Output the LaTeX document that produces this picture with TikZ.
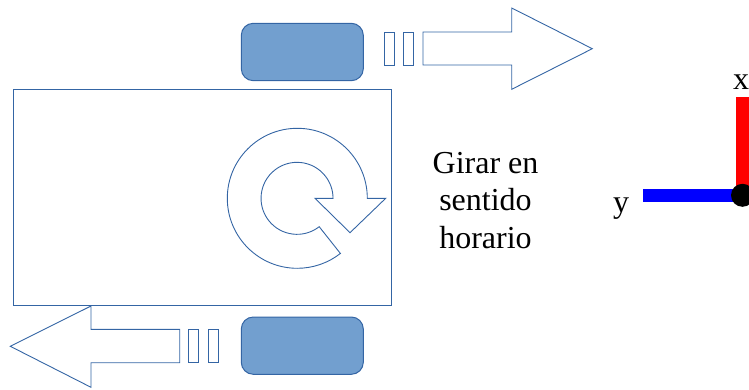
\documentclass[tikz,border=0pt]{standalone}
\usepackage{fontspec}
\setmainfont{Liberation Serif}
\definecolor{lineblue}{HTML}{3465A4}
\definecolor{wheelblue}{HTML}{729FCF}
\tikzset{
  outline/.style={draw=lineblue,line width=0.9pt,line join=miter},
  wheelbox/.style={draw=lineblue,fill=wheelblue,line width=1pt,rounded corners=12pt},
  txt/.style={font=\fontsize{32}{37.5}\selectfont,text=black,inner sep=0pt,align=center},
  axisline/.style={line width=12.5pt}
}
\begin{document}
\begin{tikzpicture}[x=1pt,y=-1pt]
\useasboundingbox (0,0) rectangle (749,390);
% body
\draw[outline] (13.3,89.3) rectangle (391,305.5);
% wheels
\draw[wheelbox] (241.3,23.3) rectangle (363.3,80.7);
\draw[wheelbox] (241.3,317) rectangle (363.3,374.3);
% top arrow
\draw[outline] (384.7,32) rectangle (394.7,65);
\draw[outline] (403.7,32) rectangle (413.7,65);
\draw[outline] (423,32) -- (511.7,32) -- (511.7,8) -- (592.3,48.7) -- (511.7,89.3) -- (511.7,65) -- (423,65) -- cycle;
% bottom arrow
\draw[outline] (188.7,329.3) rectangle (198.7,362.7);
\draw[outline] (208,329.3) rectangle (218,362.7);
\draw[outline] (179.7,329.3) -- (91,329.3) -- (91,306) -- (10.3,346.3) -- (91,387.3) -- (91,362.7) -- (179.7,362.7) -- cycle;
% rotation arrow (y axis points down, so angles are mirrored)
\draw[outline] (367.3,198.3) arc[start angle=0,end angle=-308,radius=70]
  -- (319.2,226.7) arc[start angle=52,end angle=360,radius=36]
  -- (315,198.3) -- (350,232.7) -- (385.7,198.3) -- cycle;
% text
\node[txt] (label) at (485.5,200.5) {Girar en\\sentido\\horario};
% axes
\coordinate (origin) at (742.5,195.3);
\coordinate (xend) at (742.5,97.3);
\coordinate (yend) at (643.3,195.3);
\draw[axisline,red] (origin) -- (xend);
\draw[axisline,blue] (origin) -- (yend);
\fill[black] (origin) circle[radius=11.5];
\node[txt,anchor=base] (xlabel) at (741,90) {x};
\node[txt,anchor=base] (ylabel) at (621,212) {y};
\end{tikzpicture}
\end{document}
